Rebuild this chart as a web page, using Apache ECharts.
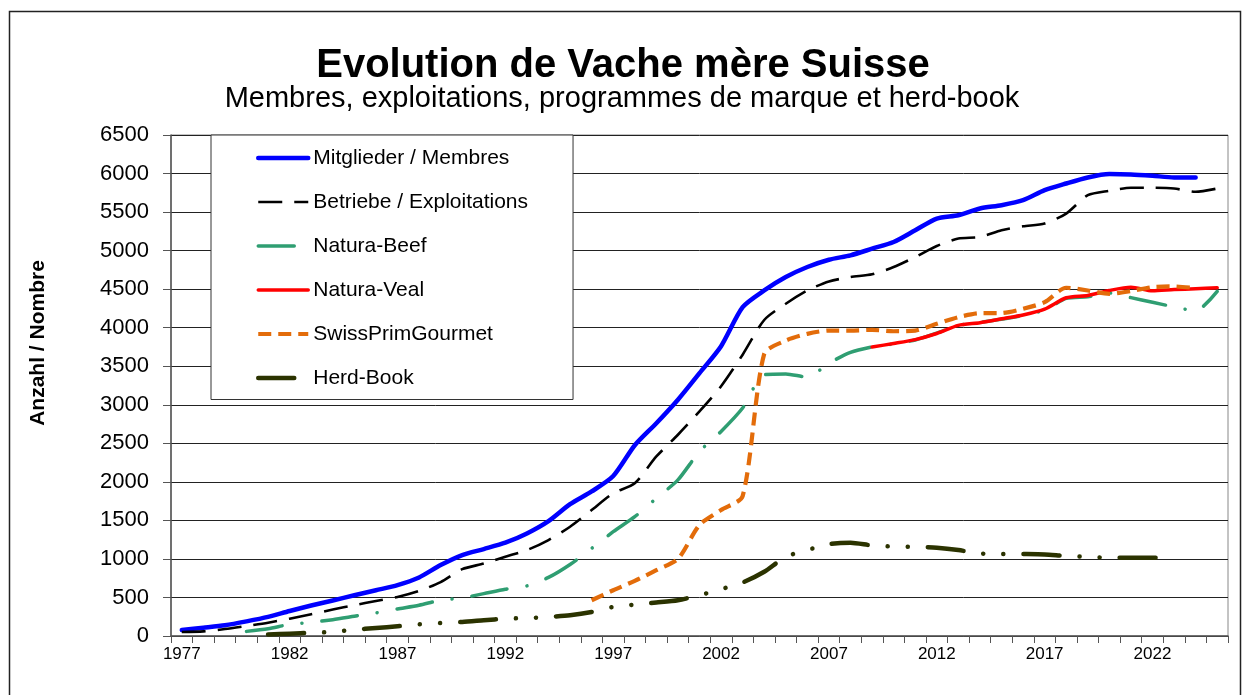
<!DOCTYPE html>
<html>
<head>
<meta charset="utf-8">
<script src="https://cdn.jsdelivr.net/npm/echarts@6/dist/echarts.min.js"></script>
<style>
html,body{margin:0;padding:0;background:#fff;}
#chart{width:1250px;height:695px;}
</style>
</head>
<body>
<div id="chart"></div>
<script>
// ---- data ----
var years = [];
for (var y = 1977; y <= 2025; y++) years.push(String(y));

var mitglieder = [78,108,140,190,248,325,395,460,528,594,
  660,760,920,1050,1128,1210,1330,1490,1710,1875,
  2075,2475,2760,3065,3410,3760,4266,4483,4657,4787,
  4882,4939,5025,5112,5264,5416,5459,5546,5589,5654,
  5784,5871,5949,5993,5988,5971,5950,5950,null];

var betriebe = [52,60,90,130,173,225,282,343,400,455,
  507,585,700,867,940,1028,1115,1245,1418,1635,
  1852,1982,2329,2611,2914,3240,3650,4100,4310,4483,
  4600,4657,4692,4787,4917,5060,5156,5177,5264,5316,
  5351,5481,5719,5776,5815,5815,5806,5763,5806];

var naturaBeef = [null,null,null,60,95,150,178,212,256,300,
  351,399,464,494,550,607,650,760,928,1136,
  1353,1548,1787,2025,2394,2654,2958,3390,3400,3360,
  3540,3680,3750,3790,3840,3930,4030,4070,4110,4160,
  4230,4380,4400,4450,4390,4330,4270,4220,4470];

var naturaVeal = [null,null,null,null,null,null,null,null,null,null,
  null,null,null,null,null,null,null,null,null,null,
  null,null,null,null,null,null,null,null,null,null,
  null,null,3750,3795,3845,3925,4030,4065,4115,4165,
  4240,4388,4418,4483,4525,4478,4495,4505,4518];

var swissPrim = [null,null,null,null,null,null,null,null,null,null,
  null,null,null,null,null,null,null,null,null,464,
  594,716,854,1000,1440,1635,1815,3660,3833,3920,
  3963,3963,3972,3954,3963,4050,4136,4188,4190,4245,
  4331,4518,4483,4440,4475,4527,4535,4514,null];

var herdBook = [null,null,null,null,20,30,43,52,82,104,
  126,152,169,182,204,225,232,247,269,312,
  377,408,434,464,529,607,694,833,1028,1115,
  1193,1210,1175,1160,1158,1145,1115,1071,1065,1063,
  1058,1037,1028,1015,1015,1015,1015,null,null];

var seriesNames = ['Mitglieder / Membres','Betriebe / Exploitations','Natura-Beef','Natura-Veal','SwissPrimGourmet','Herd-Book'];

var FONT = '"Liberation Sans", Arial, sans-serif';

var styles = [
  {color: '#0000FF', width: 4.5, type: 'solid', cap: 'round'},
  {color: '#000000', width: 2.6, type: [24, 12], cap: 'butt'},
  {color: '#2F9E72', width: 3.5, type: [36, 20, 0.1, 20], cap: 'round'},
  {color: '#FF0000', width: 3.5, type: 'solid', cap: 'round'},
  {color: '#E36C0A', width: 4.2, type: [13, 7], cap: 'butt'},
  {color: '#2B3300', width: 4.5, type: [36, 20, 0.1, 20, 0.1, 20], cap: 'round'}
];
var seriesData = [mitglieder, betriebe, naturaBeef, naturaVeal, swissPrim, herdBook];

var series = seriesNames.map(function (n, i) {
  var s = styles[i];
  return {
    name: n, type: 'line', data: seriesData[i], symbol: 'none', showSymbol: false,
    smooth: 0.25, connectNulls: false,
    itemStyle: {color: s.color},
    lineStyle: {color: s.color, width: s.width, type: s.type, cap: s.cap, join: 'round'},
    emphasis: {disabled: true}
  };
});

var legendData = seriesNames.map(function (n, i) {
  var s = styles[i];
  return {
    name: n,
    itemStyle: {opacity: 0},
    lineStyle: {color: s.color, width: s.width, type: s.type, cap: s.cap, opacity: 1}
  };
});

var chart = echarts.init(document.getElementById('chart'), null, {renderer: 'canvas'});
chart.setOption({
  animation: false,
  backgroundColor: '#ffffff',
  textStyle: {fontFamily: FONT},
  title: [
    {text: 'Evolution de Vache mère Suisse', left: 618, top: 41, textAlign: 'center',
     textStyle: {fontFamily: FONT, fontSize: 40, fontWeight: 'bold', color: '#000'}},
    {text: 'Membres, exploitations, programmes de marque et herd-book', left: 617, top: 79, textAlign: 'center',
     textStyle: {fontFamily: FONT, fontSize: 29, fontWeight: 'normal', color: '#000'}}
  ],
  graphic: [{
    type: 'rect', shape: {x: 9.5, y: 11.5, width: 1231, height: 720},
    style: {fill: null, stroke: '#222', lineWidth: 1.5}, silent: true
  }, {
    type: 'text', x: 38, y: 343, rotation: Math.PI / 2, silent: true,
    style: {text: 'Anzahl / Nombre', font: 'bold 21px ' + FONT, fill: '#000', align: 'center', verticalAlign: 'middle'}
  }],
  legend: {
    data: legendData,
    orient: 'vertical',
    left: 211, top: 135,
    padding: [12.5, 45, 11, 45],
    itemGap: 23,
    itemWidth: 50, itemHeight: 14,
    backgroundColor: '#ffffff',
    borderColor: '#333', borderWidth: 1,
    textStyle: {fontFamily: FONT, fontSize: 21, color: '#000'},
    selectedMode: false
  },
  grid: {left: 171, right: 22, top: 135, bottom: 59, show: true, borderColor: '#888', borderWidth: 1, backgroundColor: 'transparent'},
  xAxis: {
    type: 'category', data: years, boundaryGap: true,
    axisLine: {lineStyle: {color: '#555', width: 1.5}},
    axisTick: {show: true, interval: 0, alignWithLabel: false, length: 7, inside: false, lineStyle: {color: '#555'}},
    axisLabel: {interval: 4, margin: 10, fontFamily: FONT, fontSize: 17, color: '#000'},
    splitLine: {show: false}
  },
  yAxis: {
    type: 'value', min: 0, max: 6500, interval: 500,
    axisLine: {show: true, lineStyle: {color: '#555', width: 1.5}},
    axisTick: {show: true, length: 8, inside: false, lineStyle: {color: '#555'}},
    axisLabel: {margin: 22, fontFamily: FONT, fontSize: 22, color: '#000', formatter: function (v) { return String(v); }},
    splitLine: {show: true, lineStyle: {color: '#222', width: 1}}
  },
  series: series
});
</script>
</body>
</html>
